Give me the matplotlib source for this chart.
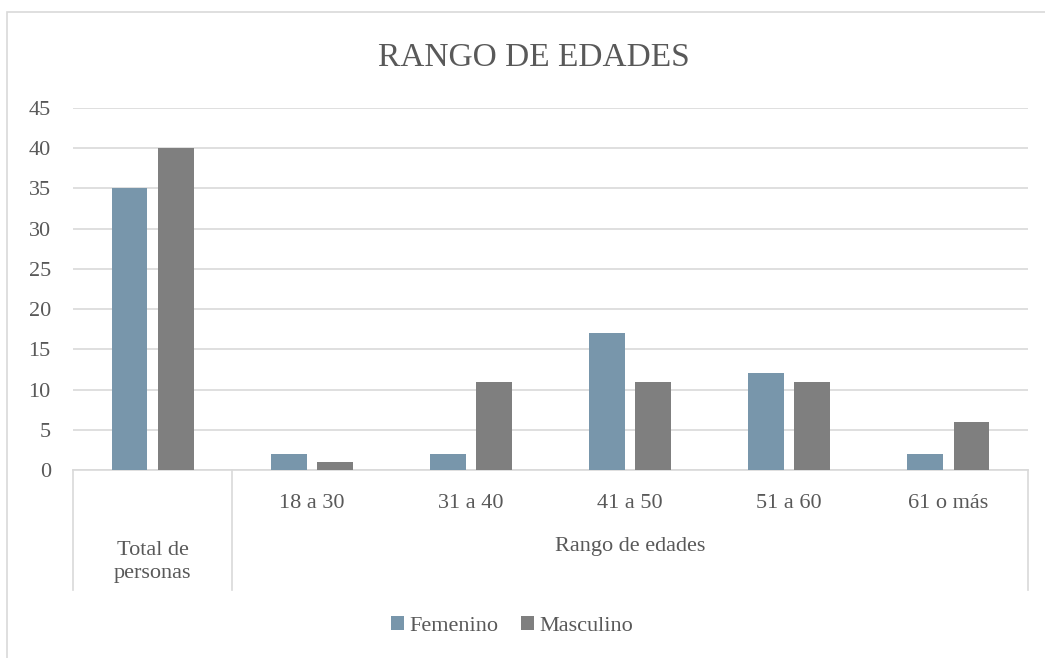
import matplotlib
matplotlib.use('Agg')
import matplotlib.pyplot as plt
from matplotlib.patches import Rectangle
import matplotlib.transforms as mtransforms

plt.rcParams['font.family'] = ['Liberation Serif', 'DejaVu Serif']

categories = ['Total de\npersonas', '18 a 30', '31 a 40', '41 a 50', '51 a 60', '61 o más']
femenino = [35, 2, 2, 17, 12, 2]
masculino = [40, 1, 11, 11, 11, 6]
group_label = 'Rango de edades'
yticks = [0, 5, 10, 15, 20, 25, 30, 35, 40, 45]

text_col = '#595959'
grid_col = '#D9D9D9'
col_f = '#7896AB'
col_m = '#7F7F7F'

W, H = 1045, 658
fig = plt.figure(figsize=(W / 100, H / 100), dpi=100)
ax = fig.add_axes([73 / W, 1 - 470 / H, (1028 - 73) / W, (470 - 108) / H])

# outer chart border
fig.patches.append(Rectangle((7 / W, -0.1), 1.2, 1 - 12 / H + 0.1, transform=fig.transFigure,
                             fill=False, edgecolor=grid_col, linewidth=1.2))

n = len(categories)
xs = [i + 0.5 for i in range(n)]
bw = 0.226
off = 0.145
ax.bar([x - off for x in xs], femenino, width=bw, color=col_f, label='Femenino', zorder=3)
ax.bar([x + off for x in xs], masculino, width=bw, color=col_m, label='Masculino', zorder=3)

ax.set_xlim(0, n)
ax.set_ylim(0, 45)
ax.set_yticks(yticks)
ax.set_xticks([])
ax.yaxis.grid(True, color=grid_col, linewidth=1.2)
ax.set_axisbelow(True)
for s in ['top', 'right', 'left']:
    ax.spines[s].set_visible(False)
ax.spines['bottom'].set_color(grid_col)
ax.spines['bottom'].set_linewidth(1.2)
ax.tick_params(axis='y', length=0, labelsize=16, labelcolor=text_col, pad=16)

# category axis with group separators
trans = mtransforms.blended_transform_factory(ax.transData, ax.transAxes)
sep_h = -120 / 362
for xv in [0, 1, n]:
    ax.plot([xv, xv], [0, sep_h], transform=trans, color=grid_col, linewidth=1.2, clip_on=False)

for i, c in enumerate(categories):
    if i == 0:
        ax.text(xs[i], -92 / 362, c, transform=trans, ha='center', va='center',
                fontsize=16, color=text_col, linespacing=1.25)
    else:
        ax.text(xs[i], -33 / 362, c, transform=trans, ha='center', va='center',
                fontsize=16, color=text_col)
ax.text((1 + n) / 2, -77 / 362, group_label, transform=trans, ha='center', va='center',
        fontsize=16, color=text_col)

fig.text(534 / W, 1 - 58 / H, 'RANGO DE EDADES', ha='center', va='center',
         fontsize=24, color=text_col)

ax.legend(loc='center', bbox_to_anchor=(512 / W, 1 - 626 / H), bbox_transform=fig.transFigure,
          ncol=2, frameon=False, fontsize=16, labelcolor=text_col, handlelength=0.6,
          handleheight=0.6, handletextpad=0.25, columnspacing=1.0)

fig.savefig('out.png', dpi=100)
